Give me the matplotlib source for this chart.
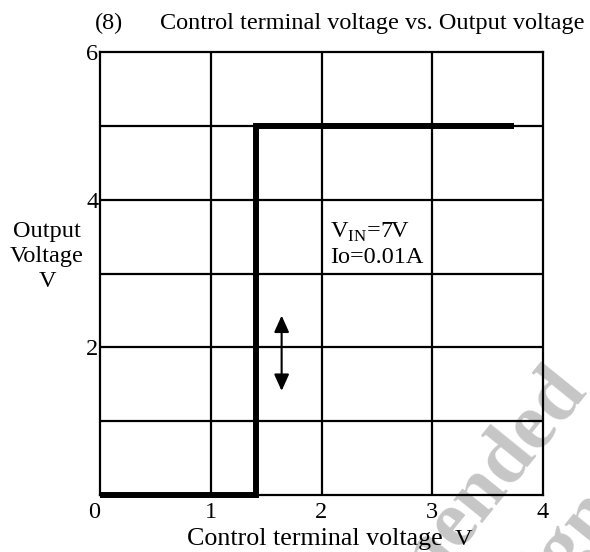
import matplotlib.pyplot as plt

# curva de salida (escalon)
ctrl_v = [0.0, 1.41, 1.41, 3.74]
out_v = [0.0, 0.0, 5.0, 5.0]

x_ticks = [0, 1, 2, 3, 4]
y_ticks = [2, 4, 6]
arrow_x = 1.64
arrow_y = [2.43, 1.41]

W, H = 590.0, 552.0
plt.rcParams['font.family'] = ['Liberation Serif', 'DejaVu Serif']
FS = 17.5


def px(x, y):
    # pixeles -> coordenadas de figura
    return x / W, 1 - y / H


fig = plt.figure(figsize=(5.9, 5.52), dpi=100)
ax = fig.add_axes([100 / W, 1 - 495 / H, 443 / W, 443 / H])
ax.set_zorder(3)
ax.patch.set_visible(False)

ax.set_xlim(0, 4)
ax.set_ylim(0, 6)
for v in range(1, 4):
    ax.axvline(v, color='black', lw=1.6, zorder=1)
for v in range(1, 6):
    ax.axhline(v, color='black', lw=1.6, zorder=1)
for s in ax.spines.values():
    s.set_linewidth(1.6)

ax.plot(ctrl_v, out_v, color='black', lw=4.3, solid_capstyle='butt',
        solid_joinstyle='miter', zorder=3, clip_on=False)

ax.annotate('', xy=(arrow_x, arrow_y[0]), xytext=(arrow_x, arrow_y[1]),
            arrowprops=dict(arrowstyle='<|-|>,head_width=0.45,head_length=1.0',
                            color='black', lw=1.5, shrinkA=0, shrinkB=0),
            zorder=4)

ax.text(2.08, 3.49, r'V$_{\mathregular{IN}}$=7V', fontsize=FS, va='baseline', zorder=4)
ax.text(2.08, 3.14, 'Io=0.01A', fontsize=FS, va='baseline', zorder=4)

ax.set_xticks(x_ticks)
ax.set_yticks(y_ticks)
ax.set_xticklabels([str(t) for t in x_ticks])
ax.set_yticklabels([str(t) for t in y_ticks])
ax.tick_params(length=0, labelsize=FS)
ax.tick_params(axis='x', pad=5)
ax.tick_params(axis='y', pad=1)
ax.get_xticklabels()[0].set_horizontalalignment('right')

fig.text(*px(47, 256), 'Output\nVoltage\nV', ha='center', va='center',
         fontsize=FS, linespacing=1.25, zorder=5)
fig.text(*px(187, 545), 'Control terminal voltage', fontsize=FS + 1.2,
         ha='left', va='baseline', zorder=5)
fig.text(*px(455, 545), 'V', fontsize=FS, ha='left', va='baseline', zorder=5)
fig.text(*px(95, 29), '(8)', fontsize=FS, ha='left', va='baseline', zorder=5)
fig.text(*px(160, 29), 'Control terminal voltage vs. Output voltage',
         fontsize=FS, ha='left', va='baseline', zorder=5)

# marca de agua (debajo de todo)
wm = dict(fontsize=58, fontweight='bold', color='#c6c6c6', rotation=51,
          rotation_mode='anchor', va='baseline', zorder=2)
fig.text(*px(588, 392), 'Not Recommended', ha='right', **wm)
fig.text(*px(640, 490), 'for New Designs', ha='right', **wm)

fig.savefig('out.png', dpi=100)
